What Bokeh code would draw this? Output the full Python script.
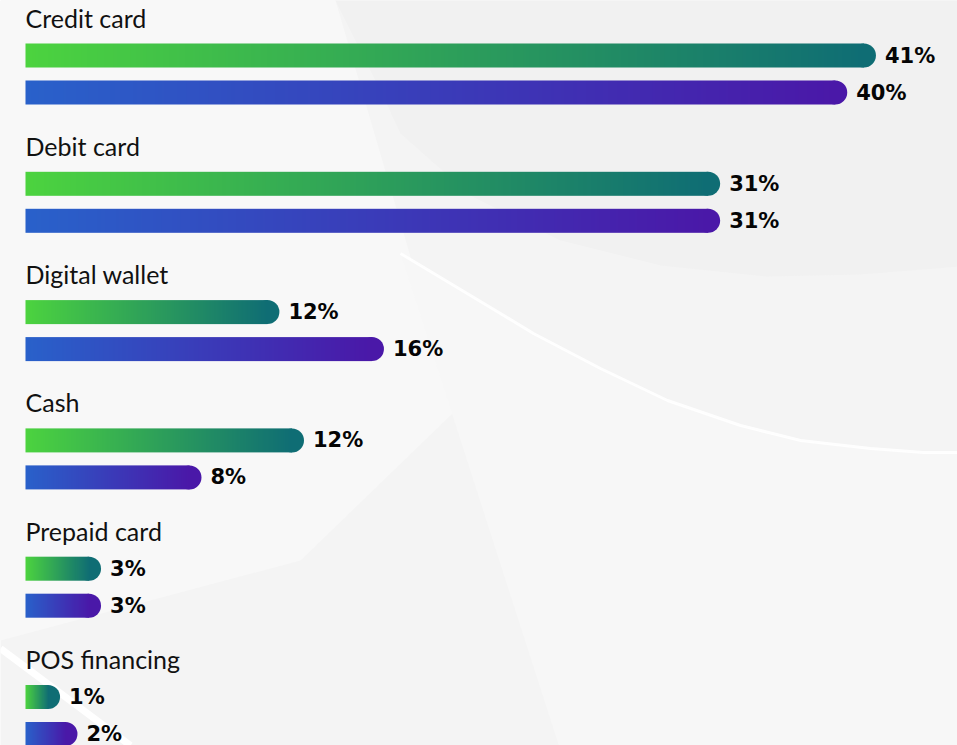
import numpy as np
from bokeh.plotting import figure
from bokeh.models import Range1d
from bokeh.core.properties import value
from bokeh.embed import file_html
from bokeh.resources import INLINE

# ---------------- data ----------------
categories = ["Credit card", "Debit card", "Digital wallet", "Cash", "Prepaid card", "POS financing"]
green_values = [40.9, 33.3, 11.8, 13.0, 3.1, 1.1]     # bar lengths (%)
blue_values = [39.5, 33.3, 16.9, 8.0, 3.1, 1.95]
green_labels = ["41%", "31%", "12%", "12%", "3%", "1%"]
blue_labels = ["40%", "31%", "16%", "8%", "3%", "2%"]

# ---------------- layout ----------------
W, H = 957, 745
S = 20.5            # px per percentage point
ORIGIN = 25         # x of the bars' left edge
GROUP = 128.3       # vertical spacing between groups (px)
BAR_H = 24
CAP = 12


def px(xp):
    return (xp - ORIGIN) / S


p = figure(width=W, height=H, output_backend="svg", toolbar_location=None,
           x_range=Range1d(px(0), px(W)), y_range=Range1d(H, 0),
           min_border=0, background_fill_color="#f4f4f4", border_fill_color="#f4f4f4")
p.axis.visible = False
p.grid.visible = False
p.outline_line_color = None

# ---------------- background swooshes ----------------
p.patch([px(v) for v in [0, 335, 455, 300, 0]], [0, 0, 410, 560, 640],
        fill_color="#f8f8f8", line_color=None)
c1x = [335, 380, 400, 470, 560, 660, 767, 860, 960]
c1y = [0, 90, 133, 195, 240, 265, 276, 274, 266]
p.patch([px(v) for v in c1x + [960, 335]], c1y + [-5, -5], fill_color="#f1f1f1", line_color=None)
wx = [400, 470, 533, 600, 667, 740, 800, 870, 923, 960]
wy = [253, 295, 333, 368, 400, 425, 440, 448, 452, 452]
p.patch([px(v) for v in wx + [960, 560]], wy + [750, 750], fill_color="#f7f7f7", line_color=None)
p.line([px(v) for v in wx], wy, line_color="white", line_width=3, line_alpha=0.9)
p.line([px(v) for v in [0, 130]], [648, 745], line_color="white", line_width=7)


# ---------------- gradient bars ----------------
def hex2rgb(h):
    return np.array([int(h[i:i + 2], 16) for i in (1, 3, 5)], dtype=float)


G0, G1 = hex2rgb("#4cd33f"), hex2rgb("#0f6d74")
B0, B1 = hex2rgb("#2961ca"), hex2rgb("#4a18a8")
N = 256


def gradient_image(c0, c1):
    t = np.linspace(0, 1, N)[:, None]
    rgb = np.round(c0 + (c1 - c0) * t).astype(np.uint8)
    img = np.empty((1, N), dtype=np.uint32)
    view = img.view(dtype=np.uint8).reshape((1, N, 4))
    view[0, :, 0:3] = rgb
    view[0, :, 3] = 255
    return img


imgs, img_x, img_y, img_dw = [], [], [], []
cap_x, cap_y, cap_c = [], [], []
lab_x, lab_y, lab_t = [], [], []
for i, cat in enumerate(categories):
    for j, (vals, labs, c0, c1) in enumerate([(green_values, green_labels, G0, G1),
                                               (blue_values, blue_labels, B0, B1)]):
        v = vals[i]
        yc = 55 + 37 * j + i * GROUP
        imgs.append(gradient_image(c0, c1))
        img_x.append(0)
        img_y.append(yc - BAR_H / 2)
        img_dw.append(v)
        cap_x.append(v)
        cap_y.append(yc)
        cap_c.append("#%02x%02x%02x" % tuple(int(c) for c in c1))
        lab_x.append(v)
        lab_y.append(yc)
        lab_t.append(labs[i])

# rounded end first, gradient body drawn over its left half
p.scatter(x=cap_x, y=cap_y, size=2 * CAP, marker="circle", fill_color=cap_c, line_color=None)
p.image_rgba(image=imgs, x=img_x, y=img_y, dw=img_dw, dh=[BAR_H] * len(imgs))

p.text(x=lab_x, y=lab_y, text=lab_t, x_offset=CAP + 9, text_baseline="middle",
       text_font=value("DejaVu Sans"), text_font_style="bold",
       text_font_size="21px", text_color="#050505")

p.text(x=[0] * len(categories), y=[17 + i * GROUP for i in range(len(categories))],
       text=categories, text_baseline="alphabetic", text_font=value("Lato"),
       text_font_size="25px", text_color="#111111")

open("out.html", "w").write(file_html(p, INLINE))
